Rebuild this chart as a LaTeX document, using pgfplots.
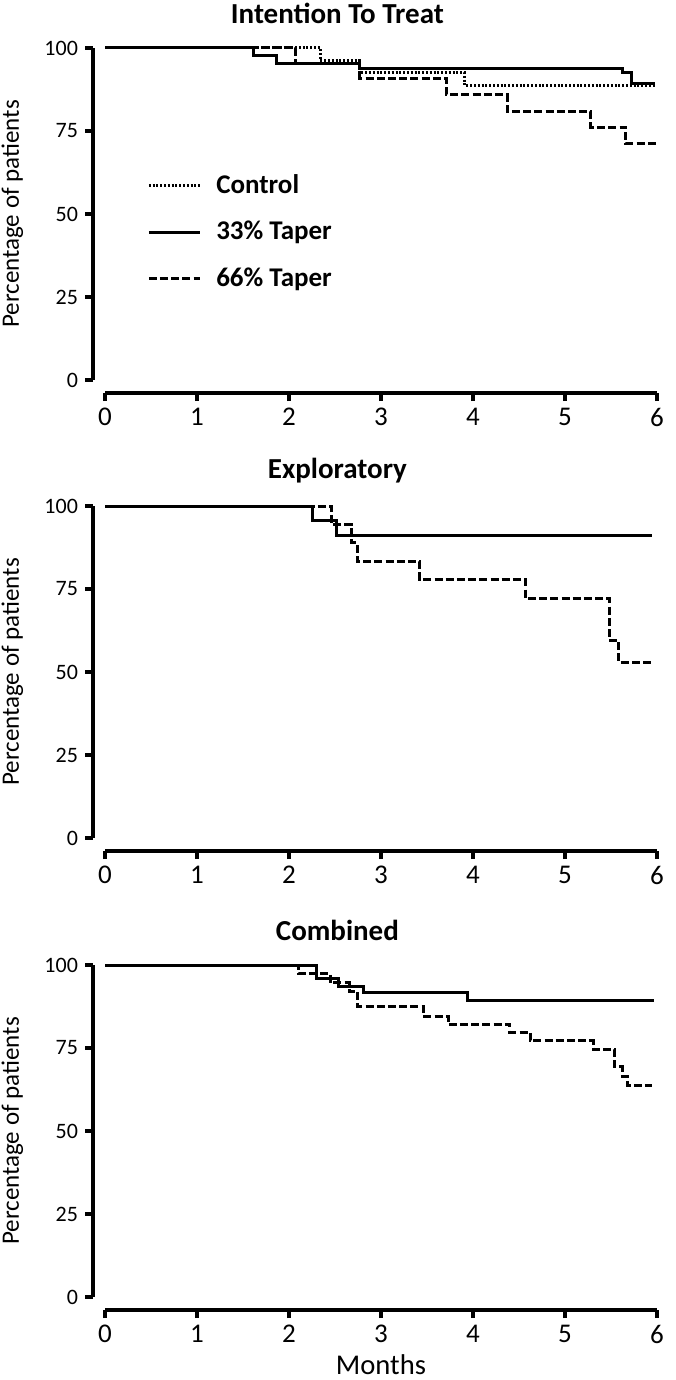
\documentclass[border=0pt]{standalone}
\usepackage{fontspec}
\setmainfont{Carlito}
\usepackage{pgfplots}
\pgfplotsset{compat=1.18}

\pgfplotstableread{
x y
0 100
2.34 96.2
2.77 92.5
3.91 88.7
5.98 88.7
}\itctrl
\pgfplotstableread{
x y
0 100
1.61 97.6
1.86 95.4
2.77 93.9
5.63 92.5
5.72 89.3
5.98 89.3
}\itthree
\pgfplotstableread{
x y
0 100
2.07 95.4
2.77 90.8
3.71 85.9
4.37 80.9
5.28 76.2
5.66 71.2
6.00 71.2
}\itsix
\pgfplotstableread{
x y
0 100
2.26 95.5
2.52 91.0
5.95 91.0
}\exthree
\pgfplotstableread{
x y
0 100
2.46 94.4
2.68 88.9
2.74 83.3
3.42 77.8
4.57 72.2
5.48 59.6
5.58 53.0
5.94 53.0
}\exsix
\pgfplotstableread{
x y
0 100
2.30 96.0
2.54 93.6
2.81 91.8
3.94 89.4
5.97 89.4
}\cothree
\pgfplotstableread{
x y
0 100
2.10 97.3
2.45 94.6
2.66 92.0
2.75 87.4
3.46 84.6
3.73 82.1
4.40 79.8
4.62 77.2
5.31 74.6
5.54 69.3
5.62 66.3
5.68 63.6
5.95 63.6
}\cosix

\pgfplotsset{
  kmaxis/.style={
    scale only axis, width=276pt, height=166pt,
    xmin=0, xmax=6, ymin=0, ymax=100,
    axis x line*=bottom, axis y line*=left,
    axis x line shift=6.5pt, axis y line shift=6pt,
    xtick={0,1,2,3,4,5,6}, ytick={0,25,50,75,100},
    tick align=outside, major tick length=4pt,
    every tick/.style={black, line width=1.6pt},
    axis line style={line width=1.6pt},
    /pgf/number format/assume math mode=true,
    xticklabel style={font=\fontsize{13.5}{16}\selectfont},
    yticklabel style={font=\fontsize{11}{13}\selectfont},
    ylabel={Percentage of patients},
    ylabel style={font=\fontsize{12.5}{15}\selectfont, at={(axis description cs:-0.168,0.5)}, anchor=center, rotate=0},
    title style={font=\bfseries\fontsize{14.5}{17}\selectfont, at={(axis description cs:0.421,1.069)}, anchor=center},
    clip=false,
    const plot mark left,
  },
  dotstyle/.style={black, line width=1.5pt, dash pattern=on 1pt off 0.9pt},
  solstyle/.style={black, line width=1.5pt},
  dashstyle/.style={black, line width=1.5pt, dash pattern=on 4pt off 1.6pt},
}

\begin{document}
\begin{tikzpicture}
\path[use as bounding box] (0,0) rectangle (337.5pt,-690pt);

\begin{axis}[kmaxis, at={(52.5pt,-24pt)}, anchor=north west,
  title={Intention To Treat},
  legend style={draw=none, fill=none, at={(axis description cs:0.065,0.645)}, anchor=north west,
    font=\bfseries\fontsize{13.5}{16}\selectfont, row sep=8.5pt, legend cell align=left},
  legend image code/.code={\draw[#1] (0pt,0pt) -- (25.5pt,0pt); \path (31pt,0pt);},
]
\addplot[dotstyle] table {\itctrl};
\addlegendentry{Control}
\addplot[solstyle] table {\itthree};
\addlegendentry{33\% Taper}
\addplot[dashstyle] table {\itsix};
\addlegendentry{66\% Taper}
\end{axis}

\begin{axis}[kmaxis, at={(52.5pt,-253pt)}, anchor=north west,
  title={Exploratory}]
\addplot[solstyle] table {\exthree};
\addplot[dashstyle] table {\exsix};
\end{axis}

\begin{axis}[kmaxis, at={(52.5pt,-482.5pt)}, anchor=north west,
  title={Combined},
  xlabel={Months},
  xlabel style={font=\fontsize{14.3}{17}\selectfont, at={(axis description cs:0.5,-0.205)}, anchor=center}]
\addplot[solstyle] table {\cothree};
\addplot[dashstyle] table {\cosix};
\end{axis}
\end{tikzpicture}
\end{document}
